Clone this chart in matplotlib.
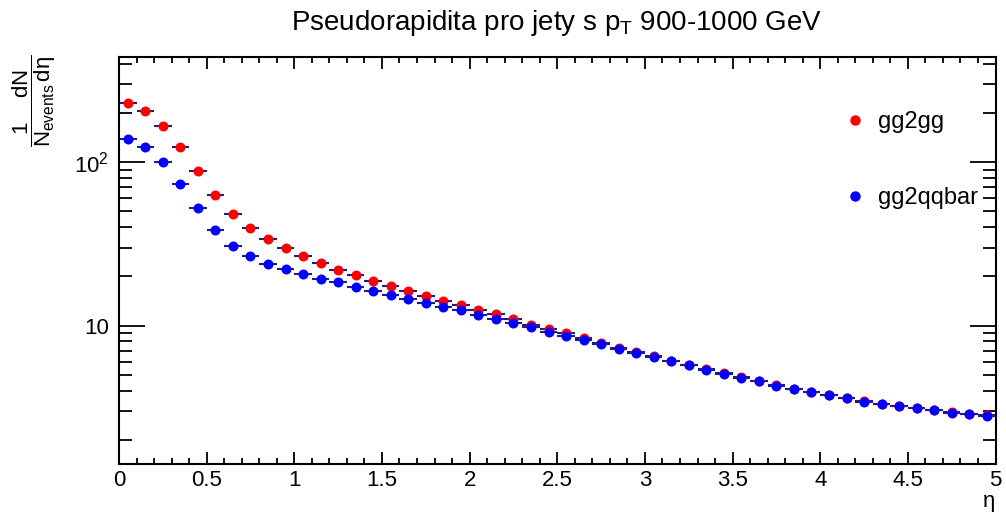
import matplotlib
matplotlib.use("Agg")
import matplotlib.pyplot as plt
from matplotlib.lines import Line2D
from matplotlib.ticker import FixedLocator, LogLocator, NullFormatter, MultipleLocator, FormatStrFormatter

plt.rcParams['font.family'] = ['Liberation Sans', 'DejaVu Sans']
plt.rcParams['mathtext.fontset'] = 'custom'
plt.rcParams['mathtext.rm'] = 'Liberation Sans'
plt.rcParams['mathtext.it'] = 'Liberation Sans'
plt.rcParams['mathtext.bf'] = 'Liberation Sans:bold'

# bin centres in eta (bin width 0.1)
eta = [0.05, 0.15, 0.25, 0.35, 0.45, 0.55, 0.65, 0.75, 0.85, 0.95,
       1.05, 1.15, 1.25, 1.35, 1.45, 1.55, 1.65, 1.75, 1.85, 1.95,
       2.05, 2.15, 2.25, 2.35, 2.45, 2.55, 2.65, 2.75, 2.85, 2.95,
       3.05, 3.15, 3.25, 3.35, 3.45, 3.55, 3.65, 3.75, 3.85, 3.95,
       4.05, 4.15, 4.25, 4.35, 4.45, 4.55, 4.65, 4.75, 4.85, 4.95]

gg2gg = [230, 207, 167, 124, 88.1, 63.1, 48.1, 39.3, 33.7, 29.7,
         26.5, 24.0, 21.9, 20.3, 18.8, 17.4, 16.3, 15.2, 14.2, 13.3,
         12.5, 11.7, 11.0, 10.1, 9.59, 8.98, 8.45, 7.84, 7.34, 6.87,
         6.47, 6.09, 5.74, 5.40, 5.10, 4.82, 4.57, 4.30, 4.10, 3.93,
         3.75, 3.59, 3.44, 3.32, 3.21, 3.12, 3.03, 2.94, 2.88, 2.82]

gg2qqbar = [138, 124, 100, 73.4, 52.4, 38.2, 30.7, 26.5, 23.9, 22.1,
            20.6, 19.4, 18.4, 17.2, 16.3, 15.4, 14.6, 13.8, 13.0, 12.4,
            11.6, 11.0, 10.4, 9.76, 9.19, 8.69, 8.13, 7.71, 7.24, 6.81,
            6.42, 6.07, 5.71, 5.36, 5.07, 4.79, 4.55, 4.28, 4.08, 3.91,
            3.74, 3.58, 3.43, 3.31, 3.20, 3.11, 3.03, 2.93, 2.87, 2.81]

half_bin = 0.05
err_col = '#1c1c8a'

fig = plt.figure(figsize=(10.06, 5.13), dpi=100)
ax = fig.add_axes([0.1183, 0.0949, 0.8713, 0.7940])

ax.errorbar(eta, gg2gg, xerr=half_bin, fmt='o', color='#ff0000', ecolor=err_col,
            elinewidth=1.5, capsize=0, markersize=7.2, markeredgewidth=0)
ax.errorbar(eta, gg2qqbar, xerr=half_bin, fmt='o', color='#0000ff', ecolor=err_col,
            elinewidth=1.5, capsize=0, markersize=7.2, markeredgewidth=0)

ax.set_yscale('log')
ax.set_xlim(0, 5)
ax.set_ylim(1.416, 440)

ax.xaxis.set_major_locator(MultipleLocator(0.5))
ax.xaxis.set_minor_locator(MultipleLocator(0.1))
ax.xaxis.set_major_formatter(FormatStrFormatter('%g'))
ax.yaxis.set_major_locator(FixedLocator([10, 100]))
ax.set_yticklabels(['10', r'$10^{2}$'])
ax.yaxis.set_minor_locator(LogLocator(base=10, subs=range(2, 10)))
ax.yaxis.set_minor_formatter(NullFormatter())

ax.tick_params(axis='both', which='both', direction='in', top=True, right=True,
               width=1.3, labelsize=16, colors='black')
ax.tick_params(axis='x', which='major', length=8.5, pad=4)
ax.tick_params(axis='x', which='minor', length=4.3)
ax.tick_params(axis='y', which='major', length=19, pad=7)
ax.tick_params(axis='y', which='minor', length=9.5)
for s in ax.spines.values():
    s.set_linewidth(1.5)

handles = [Line2D([], [], marker='o', color='#ff0000', linestyle='none', markersize=6.5),
           Line2D([], [], marker='o', color='#0000ff', linestyle='none', markersize=6.5)]
fig.legend(handles, ['gg2gg', 'gg2qqbar'], loc='upper left',
           bbox_to_anchor=(0.829, 0.806), frameon=False, fontsize=17,
           labelspacing=2.29, handlelength=0.8, handletextpad=0.55, borderpad=0)

fig.text(0.5537, 0.955, r'Pseudorapidita pro jety s $p_{T}$ 900-1000 GeV',
         ha='center', va='center', fontsize=20)
fig.text(0.034, 0.893, r'$\dfrac{1\quad\ dN}{N_{events}\,d\eta}$', rotation=90,
         ha='center', va='top', fontsize=16)
fig.text(0.989, 0.002, 'η', ha='right', va='bottom', fontsize=16)

fig.savefig('out.png', dpi=100)
